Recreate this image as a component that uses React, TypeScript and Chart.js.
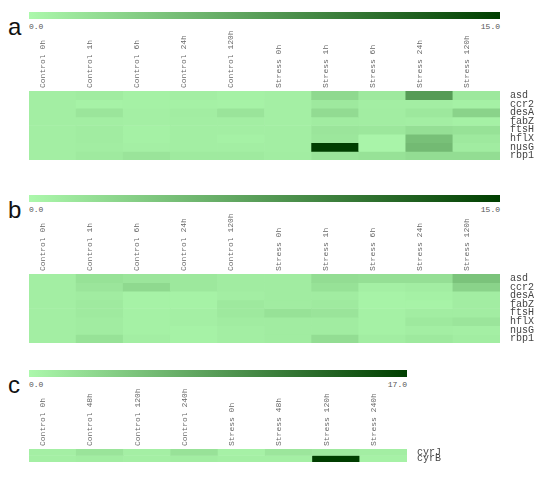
import React, { useEffect, useRef } from "react";
import { Chart, registerables } from "chart.js";

Chart.register(...registerables);

const columnsAB = [
  "Control 0h", "Control 1h", "Control 6h", "Control 24h", "Control 120h",
  "Stress 0h", "Stress 1h", "Stress 6h", "Stress 24h", "Stress 120h",
];
const genesAB = ["asd", "ccr2", "desA", "fabZ", "ftsH", "hflX", "nusG", "rbp1"];

const valuesA = [
  [0.8, 1.0, 0.6, 0.8, 0.6, 0.7, 2.5, 1.2, 7.5, 1.3],
  [0.8, 0.5, 0.6, 0.6, 0.5, 0.7, 1.2, 0.8, 0.8, 0.6],
  [0.8, 1.5, 0.7, 0.9, 1.6, 0.7, 2.3, 0.9, 1.3, 3.0],
  [0.8, 0.8, 0.7, 0.8, 0.8, 0.7, 1.0, 0.9, 0.8, 0.6],
  [0.8, 1.0, 0.6, 0.8, 0.8, 0.8, 1.5, 1.4, 2.0, 1.8],
  [0.8, 1.0, 0.6, 0.8, 0.6, 0.8, 1.4, 0.3, 4.5, 1.2],
  [0.8, 0.9, 0.7, 0.8, 0.8, 0.8, 15.0, 0.3, 5.0, 1.0],
  [0.8, 1.1, 1.6, 1.1, 1.1, 0.9, 1.6, 1.8, 2.2, 2.2],
];
const valuesB = [
  [0.8, 1.8, 1.5, 1.3, 1.0, 1.0, 2.2, 2.0, 2.0, 4.3],
  [0.8, 1.5, 2.5, 1.3, 1.0, 1.0, 1.8, 0.7, 0.9, 3.0],
  [0.8, 1.0, 0.5, 0.5, 0.8, 1.0, 1.0, 0.4, 0.6, 0.9],
  [0.8, 1.1, 0.5, 0.5, 1.2, 1.0, 1.1, 0.4, 0.4, 0.9],
  [0.8, 1.1, 0.6, 0.7, 1.2, 1.8, 1.6, 0.6, 0.9, 0.9],
  [0.8, 1.0, 0.6, 0.7, 1.0, 1.0, 1.0, 0.6, 1.2, 1.5],
  [0.8, 1.0, 0.6, 0.5, 0.8, 1.0, 1.0, 0.6, 0.8, 0.7],
  [0.8, 1.8, 0.8, 0.5, 0.8, 1.0, 2.2, 0.9, 1.2, 0.9],
];
const columnsC = [
  "Control 0h", "Control 48h", "Control 120h", "Control 240h",
  "Stress 0h", "Stress 48h", "Stress 120h", "Stress 240h",
];
const genesC = ["cyrJ", "cyrB"];
const valuesC = [
  [0.8, 1.8, 0.8, 2.0, 0.6, 1.6, 1.4, 0.9],
  [0.8, 1.0, 0.8, 1.0, 0.8, 0.8, 17.0, 0.6],
];
const maxA = 15;
const maxB = 15;
const maxC = 17;

const LIGHT = [172, 248, 172];
const DARK = [0, 62, 0];

function colorFor(v: number, max: number) {
  const t = Math.max(0, Math.min(1, v / max));
  const c = LIGHT.map((l, i) => Math.round(l + (DARK[i] - l) * t));
  return `rgb(${c[0]},${c[1]},${c[2]})`;
}

const MONO = "'Liberation Mono', 'DejaVu Sans Mono', monospace";

type HMProps = {
  columns: string[];
  genes: string[];
  values: number[][];
  max: number;
  chartTop: number;
  chartHeight: number;
  chartRight: number;
};

const AXIS_H = 60;
const PAD_B = 10;

function Heatmap({ columns, genes, values, max, chartTop, chartHeight, chartRight }: HMProps) {
  const ref = useRef<HTMLCanvasElement | null>(null);
  useEffect(() => {
    if (!ref.current) return;
    const datasets = genes.map((g, i) => ({
      label: g,
      data: columns.map(() => [i, i + 1] as [number, number]),
      backgroundColor: values[i].map((v) => colorFor(v, max)),
      borderWidth: 0,
      grouped: false,
      barPercentage: 1,
      categoryPercentage: 1,
    }));
    const chart = new Chart(ref.current, {
      type: "bar",
      data: { labels: columns, datasets: datasets as any },
      options: {
        animation: false,
        responsive: false,
        maintainAspectRatio: false,
        layout: { padding: { left: 29, right: 0, top: 0, bottom: PAD_B } },
        plugins: { legend: { display: false }, tooltip: { enabled: false } },
        scales: {
          x: {
            position: "top",
            grid: { display: false, drawTicks: false },
            border: { display: false },
            ticks: {
              autoSkip: false,
              minRotation: 90,
              maxRotation: 90,
              padding: 3,
              color: "#666",
              font: { family: MONO, size: 8 },
            },
            afterFit: (s: any) => {
              s.height = AXIS_H;
            },
          },
          y: {
            type: "linear",
            position: "right",
            min: 0,
            max: genes.length,
            reverse: true,
            grid: { display: false, drawTicks: false },
            border: { display: false },
            afterBuildTicks: (s: any) => {
              s.ticks = genes.map((_, i) => ({ value: i + 0.5 }));
            },
            ticks: {
              autoSkip: false,
              padding: 10,
              color: "#444",
              font: { family: MONO, size: 10 },
              callback: (v: any) => genes[Math.floor(Number(v))] ?? "",
            },
            afterFit: (s: any) => {
              s.width = 550 - chartRight;
            },
          },
        },
      },
    });
    return () => chart.destroy();
  }, []);
  const h = AXIS_H + chartHeight + PAD_B;
  return (
    <canvas
      ref={ref}
      width={550}
      height={h}
      style={{ position: "absolute", left: 0, top: chartTop - AXIS_H, width: 550, height: h }}
    />
  );
}

function ColorBar({ top, right, max, letter }: { top: number; right: number; max: number; letter: string }) {
  const light = `rgb(${LIGHT.join(",")})`;
  const dark = `rgb(${DARK.join(",")})`;
  return (
    <>
      <div
        style={{
          position: "absolute",
          left: 29,
          top,
          width: right - 29,
          height: 7,
          background: `linear-gradient(to right, ${light}, ${dark})`,
        }}
      />
      <div
        style={{
          position: "absolute",
          left: 29,
          top: top + 10,
          fontFamily: MONO,
          fontSize: 8,
          lineHeight: "10px",
          color: "#555",
        }}
      >
        0.0
      </div>
      <div
        style={{
          position: "absolute",
          left: right - 60,
          width: 60,
          textAlign: "right",
          top: top + 10,
          fontFamily: MONO,
          fontSize: 8,
          lineHeight: "10px",
          color: "#555",
        }}
      >
        {max.toFixed(1)}
      </div>
      <div
        style={{
          position: "absolute",
          left: 8,
          top: top + 1,
          fontFamily: "'Liberation Sans', Arial, sans-serif",
          fontSize: 24,
          lineHeight: "28px",
          color: "#111",
        }}
      >
        {letter}
      </div>
    </>
  );
}

export default function App() {
  return (
    <div style={{ position: "absolute", left: 0, top: 0, width: 550, height: 478, background: "#fff", overflow: "hidden" }}>
      <ColorBar top={12} right={500} max={maxA} letter="a" />
      <Heatmap columns={columnsAB} genes={genesAB} values={valuesA} max={maxA} chartTop={91} chartHeight={75} chartRight={500} />
      <ColorBar top={195} right={500} max={maxB} letter="b" />
      <Heatmap columns={columnsAB} genes={genesAB} values={valuesB} max={maxB} chartTop={274} chartHeight={75} chartRight={500} />
      <ColorBar top={370} right={407} max={maxC} letter="c" />
      <Heatmap columns={columnsC} genes={genesC} values={valuesC} max={maxC} chartTop={449} chartHeight={19} chartRight={407} />
    </div>
  );
}
